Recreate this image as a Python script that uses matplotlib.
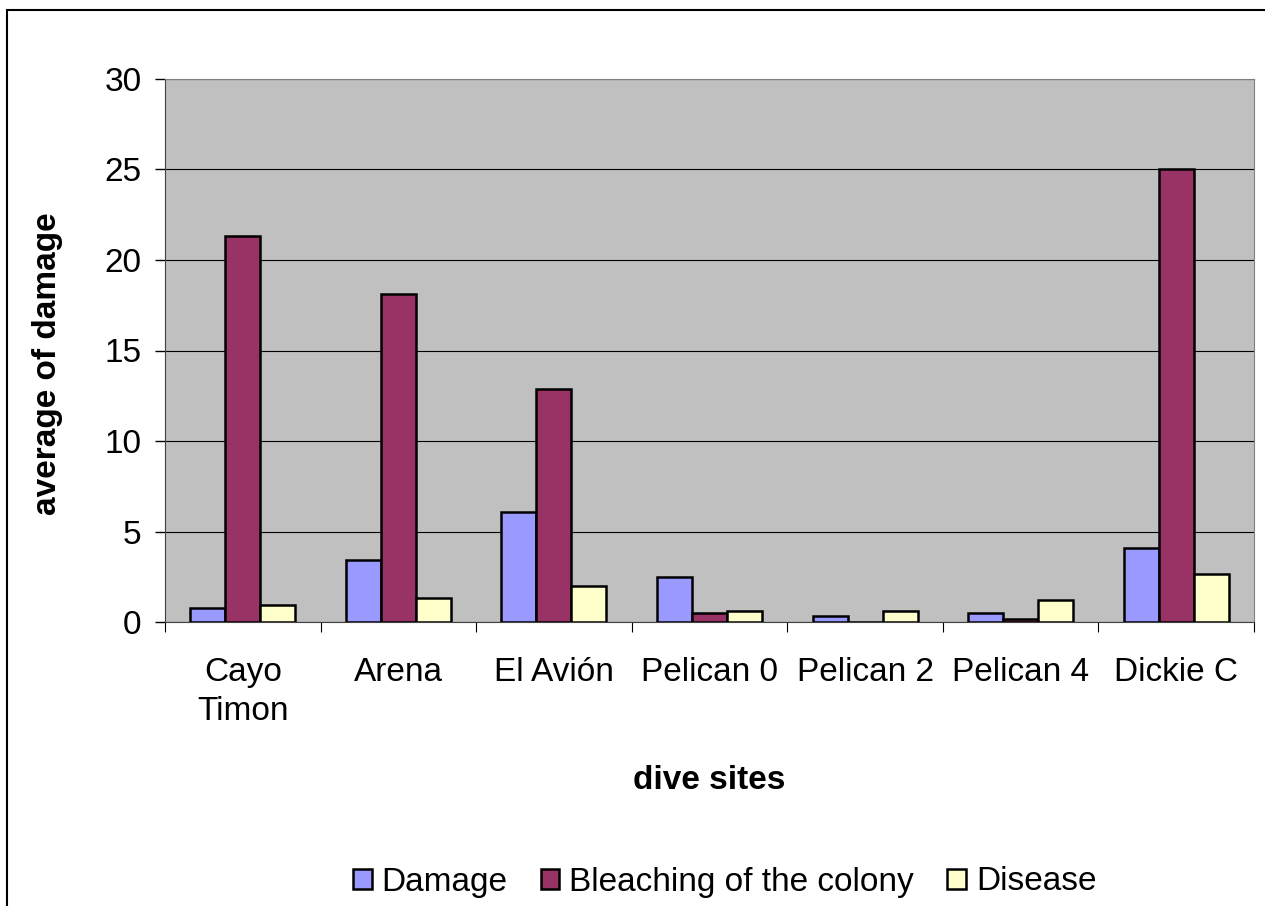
import numpy as np
import matplotlib.pyplot as plt
from matplotlib.patches import Rectangle

plt.rcParams['font.family'] = ['Liberation Sans', 'DejaVu Sans']

sites = ["Cayo\nTimon", "Arena", "El Avión", "Pelican 0", "Pelican 2", "Pelican 4", "Dickie C"]
damage = [0.8, 3.4, 6.1, 2.5, 0.33, 0.48, 4.07]
bleaching = [21.3, 18.1, 12.9, 0.48, 0.0, 0.15, 25.0]
disease = [0.94, 1.3, 2.0, 0.62, 0.62, 1.2, 2.65]

series = [("Damage", damage, "#9999FF"),
          ("Bleaching of the colony", bleaching, "#993366"),
          ("Disease", disease, "#FFFFCC")]

fig = plt.figure(figsize=(12.65, 9.06), dpi=100)
fig.patches.append(Rectangle((7 / 1265, -0.01), 1.0, 1 - 10 / 906 + 0.01,
                             transform=fig.transFigure, fill=False,
                             edgecolor="black", linewidth=1.5))
ax = fig.add_axes([165 / 1265, 1 - 622 / 906, (1254 - 165) / 1265, (622 - 79) / 906])
ax.set_facecolor("#C0C0C0")

x = np.arange(len(sites))
w = 0.225
for i, (name, vals, col) in enumerate(series):
    ax.bar(x + (i - 1) * w, vals, w, color=col, edgecolor="black",
           linewidth=1.8, label=name, zorder=3)

ax.set_xlim(-0.5, len(sites) - 0.5)
ax.set_ylim(0, 30)
ax.set_yticks(range(0, 31, 5))
ax.yaxis.grid(True, color="black", linewidth=0.8, zorder=0)
ax.set_axisbelow(True)
ax.tick_params(axis="y", labelsize=24, length=7, direction="out", width=1, pad=10)

ax.set_xticks(np.arange(-0.5, len(sites), 1))
ax.set_xticklabels([])
ax.set_xticks(x, minor=True)
ax.set_xticklabels(sites, minor=True, fontsize=24, linespacing=1.35)
ax.tick_params(axis="x", which="major", length=7, direction="out")
ax.tick_params(axis="x", which="minor", length=0, pad=25)

for s in ["top", "right"]:
    ax.spines[s].set_color("#808080")
ax.spines["left"].set_color("#404040")
ax.spines["bottom"].set_color("#404040")

ax.set_ylabel("average of damage", fontsize=24, fontweight="bold")
ax.yaxis.set_label_coords(-0.094, 0.475)
ax.set_xlabel("dive sites", fontsize=24, fontweight="bold")
ax.xaxis.set_label_coords(0.5, -0.263)

fig.legend(loc="center", bbox_to_anchor=(0.573, 1 - 882 / 906), ncol=3,
           frameon=False, fontsize=24, handlelength=0.55, handleheight=0.55,
           handletextpad=0.3, columnspacing=1.0)

fig.savefig("out.png", dpi=100)
